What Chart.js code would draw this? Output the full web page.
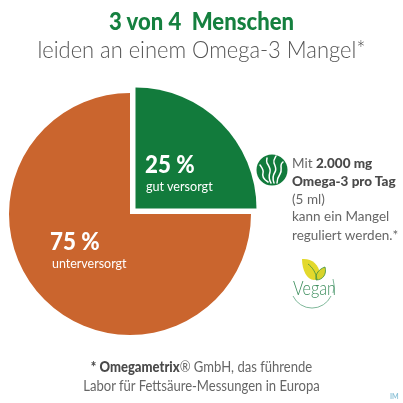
<!DOCTYPE html>
<html><head><meta charset="utf-8">
<style>
html,body{margin:0;padding:0;background:#fff;width:403px;height:403px;overflow:hidden}
#wrap{position:relative;width:403px;height:403px}
canvas{position:absolute;left:0;top:0}
.t{position:absolute;white-space:nowrap;font-family:Lato,sans-serif;line-height:1;transform-origin:0 50%}
.c{left:0;width:403px;text-align:center;transform-origin:50% 50%}
svg{position:absolute;left:0;top:0}
</style>
<script src="https://cdn.jsdelivr.net/npm/chart.js@4"></script>
</head><body><div id="wrap">
<canvas id="c" width="403" height="403"></canvas>
<svg width="403" height="403" viewBox="0 0 403 403">
  <circle cx="272" cy="170" r="15.5" fill="#127b3c"/>
  <g fill="none" stroke="#fff" stroke-width="1.5" stroke-linecap="round">
    <path d="M268 182c-5-3-6-6-5-9s-1-5-3-8"/>
    <path d="M271 183c-3-5-2-8-1-11s-1-6-3-9c-1-2 0-4 0-5"/>
    <path d="M274 183c-2-5-1-8 1-11s0-6-1-9 1-5 2-7"/>
    <path d="M277 183c0-4 1-6 3-9s1-5 1-8 1-3 2-4"/>
  </g>
  <path d="M293 296a21 21 0 0 0 38 0" fill="none" stroke="#7fb89a" stroke-width="1"/>
  <path d="M333 293a21 21 0 0 0 0-14" fill="none" stroke="#7fb89a" stroke-width="1"/>
  <path d="M302 259c9-1 17 5 18 15c-1 3-3 6-6 6c-7 0-12-10-12-21z" fill="#e3d92c"/>
  <path d="M316 280c-1-6 3-11 9-13c2 7-2 13-9 13z" fill="#d8d32b" stroke="#3c8f3f" stroke-width=".8"/>
  <path d="M308 264c4 3 8 8 9 16" fill="none" stroke="#3c8f3f" stroke-width=".8"/>
</svg>
<div class="t c" style="top:9px;font-size:24px;font-weight:900;color:#15803f;transform:scaleX(.92)">3 von 4&nbsp; Menschen</div>
<div class="t c" style="top:37px;font-size:24px;font-weight:300;color:#555;transform:scaleX(.913)">leiden an einem Omega-3 Mangel*</div>
<div class="t" style="left:145px;top:152px;font-size:24px;font-weight:900;color:#fff;transform:scaleX(.93)">25 %</div>
<div class="t" style="left:146px;top:179px;font-size:14px;font-weight:400;color:#fff;transform:scaleX(.9)">gut versorgt</div>
<div class="t" style="left:50px;top:229px;font-size:24px;font-weight:900;color:#fff;transform:scaleX(.93)">75 %</div>
<div class="t" style="left:52px;top:256px;font-size:14px;font-weight:400;color:#fff;transform:scaleX(.89)">unterversorgt</div>
<div class="t" style="left:292px;top:157px;font-size:13.5px;color:#666;">Mit <b style="color:#4a4a4a;font-weight:900">2.000 mg</b></div>
<div class="t" style="left:292px;top:175px;font-size:13.5px;font-weight:900;color:#4a4a4a;">Omega-3 pro Tag</div>
<div class="t" style="left:292px;top:193px;font-size:13.5px;color:#666;">(5 ml)</div>
<div class="t" style="left:292px;top:210px;font-size:13.5px;color:#666;">kann ein Mangel</div>
<div class="t" style="left:292px;top:229px;font-size:13.5px;color:#666;">reguliert werden.*</div>
<div class="t" style="left:293px;top:278px;font-size:19px;font-weight:300;color:#3f8f5f;transform:scaleX(.85)">Vegan</div>
<div class="t c" style="top:360px;font-size:14.5px;color:#666;transform:scaleX(.9)"><b style="color:#4a4a4a;font-weight:900">* Omegametrix</b>® GmbH, das führende</div>
<div class="t c" style="top:379px;font-size:14.5px;color:#666;transform:scaleX(.9)">Labor für Fettsäure-Messungen in Europa</div>
<div class="t" style="left:390px;top:393px;font-size:7px;font-weight:700;color:#8fc3d8;">IM</div>
</div>
<script>
const categories = ["gut versorgt", "unterversorgt"];
const values = [25, 75];
const sliceColors = ["#127b3c", "#ca652e"];
const sliceOffsets = [31, 0];
new Chart(document.getElementById('c'), {
  type: 'pie',
  data: { labels: categories, datasets: [{ data: values, backgroundColor: sliceColors, offset: sliceOffsets, borderWidth: 0 }] },
  options: {
    responsive: false, animation: false, radius: 121,
    layout: { padding: { left: 0, right: 143, top: 83, bottom: 58 } },
    plugins: { legend: { display: false }, tooltip: { enabled: false } }
  }
});
</script>
</body></html>
